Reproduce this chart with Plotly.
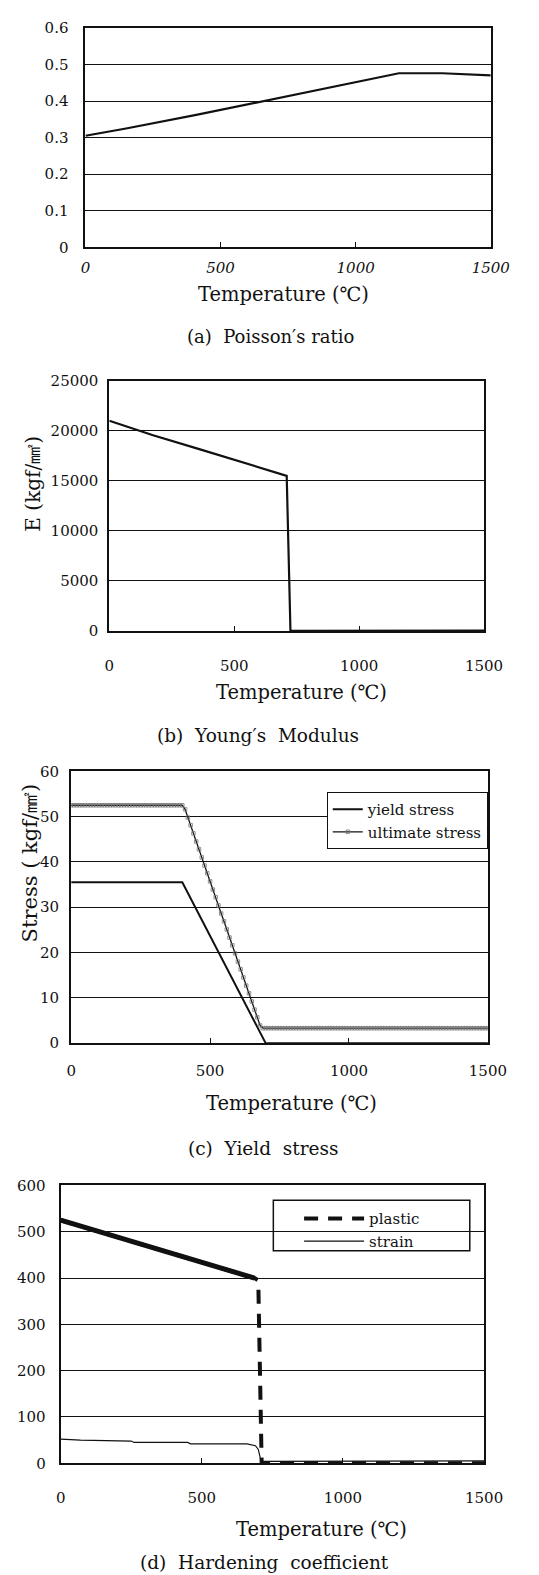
import plotly.graph_objects as go

W, H = 539, 1575

# ---------------- data ----------------
# (a) Poisson's ratio
poisson_temp = [0, 150, 410, 660, 1000, 1160, 1320, 1500]
poisson_val = [0.305, 0.325, 0.362, 0.400, 0.451, 0.476, 0.476, 0.470]

# (b) Young's modulus (kgf/mm2)
young_temp = [0, 175, 350, 710, 725, 1000, 1350, 1480, 1500]
young_val = [21000, 19550, 18250, 15500, 0, 20, 80, 60, 40]

# (c) Yield / ultimate stress (kgf/mm2)
yield_temp = [0, 400, 700, 1500]
yield_val = [35.5, 35.5, 0.0, 0.0]

ult_temp = list(range(0, 1510, 10))
ult_val = [
    52.5, 52.5, 52.5, 52.5, 52.5, 52.5, 52.5, 52.5, 52.5, 52.5,
    52.5, 52.5, 52.5, 52.5, 52.5, 52.5, 52.5, 52.5, 52.5, 52.5,
    52.5, 52.5, 52.5, 52.5, 52.5, 52.5, 52.5, 52.5, 52.5, 52.5,
    52.5, 52.5, 52.5, 52.5, 52.5, 52.5, 52.5, 52.5, 52.5, 52.5,
    52.5,
    51.6, 49.8, 48.1, 46.3, 44.5, 42.8, 41.0, 39.2, 37.5, 35.7,
    33.9, 32.2, 30.4, 28.6, 26.9, 25.1, 23.3, 21.6, 19.8, 18.0,
    16.3, 14.5, 12.7, 11.0, 9.2, 7.4, 5.7, 3.9,
    3.3, 3.3, 3.3, 3.3, 3.3, 3.3, 3.3, 3.3, 3.3, 3.3,
    3.3, 3.3, 3.3, 3.3, 3.3, 3.3, 3.3, 3.3, 3.3, 3.3,
    3.3, 3.3, 3.3, 3.3, 3.3, 3.3, 3.3, 3.3, 3.3, 3.3,
    3.3, 3.3, 3.3, 3.3, 3.3, 3.3, 3.3, 3.3, 3.3, 3.3,
    3.3, 3.3, 3.3, 3.3, 3.3, 3.3, 3.3, 3.3, 3.3, 3.3,
    3.3, 3.3, 3.3, 3.3, 3.3, 3.3, 3.3, 3.3, 3.3, 3.3,
    3.3, 3.3, 3.3, 3.3, 3.3, 3.3, 3.3, 3.3, 3.3, 3.3,
    3.3, 3.3, 3.3, 3.3, 3.3, 3.3, 3.3, 3.3, 3.3, 3.3,
    3.3, 3.3,
]

# (d) Hardening coefficient
plastic_temp = [0, 687, 700, 712, 1500]
plastic_val = [525, 400, 395, 0, 0]
strain_temp = [0, 70, 250, 260, 450, 460, 660, 690, 700, 710, 1500]
strain_val = [52, 50, 48, 45, 45, 42, 42, 38, 30, 4, 5]

x_ticks = [0, 500, 1000, 1500]

# ---------------- layout helpers ----------------
def px_x(p):
    return p / W

def px_y(p):
    return 1 - p / H

SERIF = "DejaVu Serif, Liberation Serif, serif"
BLACK = "#111111"

panels = {
    # name: (left, right, top, bottom)
    "1": (76, 501, 11, 233),
    "2": (101, 494, 368, 621),
    "3": (61, 498, 763, 1038),
    "4": (50, 494, 1182, 1463),
}

fig = go.Figure()

# (a)
fig.add_trace(go.Scatter(x=poisson_temp, y=poisson_val, mode="lines",
                         line=dict(color=BLACK, width=2.2),
                         xaxis="x", yaxis="y", showlegend=False))
# (b)
fig.add_trace(go.Scatter(x=young_temp, y=young_val, mode="lines",
                         line=dict(color=BLACK, width=2.2),
                         xaxis="x2", yaxis="y2", showlegend=False))
# (c)
fig.add_trace(go.Scatter(x=yield_temp, y=yield_val, mode="lines", name="yield stress",
                         line=dict(color=BLACK, width=2),
                         xaxis="x3", yaxis="y3", legend="legend"))
fig.add_trace(go.Scatter(x=ult_temp, y=ult_val, mode="lines+markers", name="ultimate stress",
                         line=dict(color=BLACK, width=1.3),
                         marker=dict(symbol="square-open", size=3.5, color="#777777",
                                     line=dict(width=0.8, color="#777777")),
                         xaxis="x3", yaxis="y3", legend="legend"))
# (d)
fig.add_trace(go.Scatter(x=plastic_temp, y=plastic_val, mode="lines", name="plastic",
                         line=dict(color=BLACK, width=4, dash="14px,10px"),
                         xaxis="x4", yaxis="y4", legend="legend2"))
fig.add_trace(go.Scatter(x=plastic_temp[:2], y=plastic_val[:2], mode="lines",
                         line=dict(color=BLACK, width=5),
                         xaxis="x4", yaxis="y4", showlegend=False))
fig.add_trace(go.Scatter(x=strain_temp, y=strain_val, mode="lines", name="strain",
                         line=dict(color=BLACK, width=1.2),
                         xaxis="x4", yaxis="y4", legend="legend2"))

yranges = {"1": [0, 0.6], "2": [0, 25000], "3": [0, 60], "4": [0, 600]}
ydticks = {"1": 0.1, "2": 5000, "3": 10, "4": 100}
yfmt = {"1": ".1f", "2": "d", "3": "d", "4": "d"}
ystand = {"1": 12, "2": 6, "3": 7, "4": 10}
xstand = {"1": 6, "2": 20, "3": 13, "4": 20}

layout = dict(
    width=W, height=H,
    margin=dict(l=0, r=0, t=0, b=0),
    paper_bgcolor="white", plot_bgcolor="white",
    font=dict(family=SERIF, size=15, color=BLACK),
)

for k, (l, r, t, b) in panels.items():
    xname = "xaxis" if k == "1" else "xaxis" + k
    yname = "yaxis" if k == "1" else "yaxis" + k
    anchor_x = "x" if k == "1" else "x" + k
    anchor_y = "y" if k == "1" else "y" + k
    tickfont = dict(family=SERIF, size=15, color=BLACK)
    if k == "1":
        tickfont = dict(family=SERIF, size=15, color=BLACK, style="italic")
    layout[xname] = dict(
        domain=[px_x(l), px_x(r)], anchor=anchor_y,
        range=[0, 1500], tickvals=x_ticks, ticktext=[str(v) for v in x_ticks],
        showgrid=False, zeroline=False,
        showline=True, linecolor=BLACK, linewidth=2, mirror=True,
        ticks="inside", ticklen=5, tickwidth=1.2, tickcolor=BLACK,
        tickfont=tickfont, ticklabelstandoff=xstand[k],
    )
    yticks = dict(tickformat=yfmt[k])
    if k == "1":
        yticks = dict(tickvals=[0, 0.1, 0.2, 0.3, 0.4, 0.5, 0.6],
                      ticktext=["0", "0.1", "0.2", "0.3", "0.4", "0.5", "0.6"])
    layout[yname] = dict(
        domain=[px_y(b), px_y(t)], anchor=anchor_x,
        range=yranges[k], dtick=ydticks[k], tick0=0,
        showgrid=True, gridcolor=BLACK, gridwidth=1.2,
        zeroline=False,
        showline=True, linecolor=BLACK, linewidth=2, mirror=True,
        ticks="", tickfont=dict(family=SERIF, size=15, color=BLACK),
        ticklabelstandoff=ystand[k], **yticks,
    )

layout["legend"] = dict(
    x=px_x(329), y=px_y(784), xanchor="left", yanchor="top",
    bgcolor="white", bordercolor=BLACK, borderwidth=1,
    font=dict(family=SERIF, size=15, color=BLACK),
    itemwidth=30, tracegroupgap=0,
)
layout["legend2"] = dict(
    x=px_x(300), y=px_y(1199), xanchor="left", yanchor="top",
    bgcolor="rgba(0,0,0,0)", borderwidth=0,
    font=dict(family=SERIF, size=15, color=BLACK),
    itemwidth=60, tracegroupgap=0,
)

layout["shapes"] = [
    dict(type="rect", xref="paper", yref="paper",
         x0=px_x(273), x1=px_x(479), y0=px_y(1248), y1=px_y(1197),
         line=dict(color=BLACK, width=1.5), fillcolor="white", layer="below"),
]

def ann(text, cx, cy, size, angle=0):
    return dict(text=text, x=px_x(cx), y=px_y(cy), xref="paper", yref="paper",
                xanchor="center", yanchor="middle", showarrow=False, textangle=angle,
                font=dict(family=SERIF, size=size, color=BLACK))

layout["annotations"] = [
    ann("Temperature (℃)", 284, 281, 19.5),
    ann("(a)  Poisson′s ratio", 270, 323, 18),
    ann("Temperature (℃)", 303, 683, 19.5),
    ann("(b)  Young′s  Modulus", 257, 727, 18.5),
    ann("E (kgf/㎟)", 21, 472, 20, -90),
    ann("Temperature (℃)", 292, 1099, 19.5),
    ann("(c)  Yield  stress", 263, 1145, 18.5),
    ann("Stress ( kgf/㎟)", 18, 856, 21, -90),
    ann("Temperature (℃)", 323, 1530, 19.5),
    ann("(d)  Hardening  coefficient", 264, 1563, 18.5),
]

fig.update_layout(**layout)
fig.write_html("out.html")
